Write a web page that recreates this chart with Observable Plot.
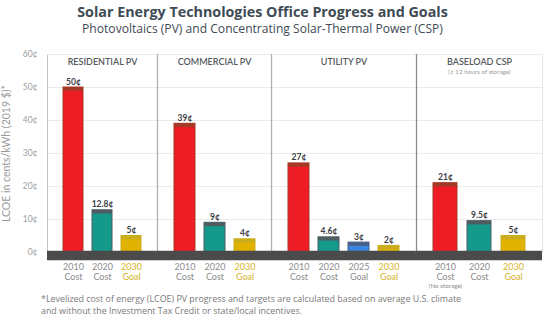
<!DOCTYPE html>
<html>
<head>
<meta charset="utf-8">
<script src="https://cdn.jsdelivr.net/npm/d3@7"></script>
<script src="https://cdn.jsdelivr.net/npm/@observablehq/plot@0.6"></script>
<style>
  html, body { margin: 0; padding: 0; background: #fff; }
  #wrap { position: relative; width: 550px; height: 322px; overflow: hidden; font-family: "Open Sans", sans-serif; }
  #title { position: absolute; left: 0; top: 2px; width: 525px; text-align: center; font-weight: 700; font-size: 14.3px; line-height: 20px; color: #3e4b55; }
  #subtitle { position: absolute; left: 0; top: 21px; width: 525px; text-align: center; font-size: 12.1px; line-height: 16px; color: #3e4b55; }
  #charts { position: absolute; left: 0; top: 45px; display: flex; }
  #charts svg { overflow: visible; }
  #note { position: absolute; left: 41px; top: 293px; font-size: 8.9px; line-height: 12px; color: #7a7a7a; }
</style>
</head>
<body>
<div id="wrap">
  <div id="title">Solar Energy Technologies Office Progress and Goals</div>
  <div id="subtitle">Photovoltaics (PV) and Concentrating Solar-Thermal Power (CSP)</div>
  <div id="charts"></div>
  <div id="note">*Levelized cost of energy (LCOE) PV progress and targets are calculated based on average U.S. climate<br>and without the Investment Tax Credit or state/local incentives.</div>
</div>
<script>
const panels = ["RESIDENTIAL PV", "COMMERCIAL PV", "UTILITY PV", "BASELOAD CSP"];
const panelNotes = ["", "", "", "(≥ 12 hours of storage)"];
const barPanel = [0, 0, 0, 1, 1, 1, 2, 2, 2, 2, 3, 3, 3];
const barYear = ["2010", "2020", "2030", "2010", "2020", "2030", "2010", "2020", "2025", "2030", "2010", "2020", "2030"];
const barType = ["Cost", "Cost", "Goal", "Cost", "Cost", "Goal", "Cost", "Cost", "Goal", "Goal", "Cost", "Cost", "Goal"];
const barValue = [50, 12.8, 5, 39, 9, 4, 27, 4.6, 3, 2, 21, 9.5, 5];
const barNote = ["", "", "", "", "", "", "", "", "", "", "(No storage)", "", ""];
const yTicks = [0, 10, 20, 30, 40, 50, 60];
const yLabel = "LCOE in cents/kWh (2019 $)*";

const fills = {"2010": "#ee1d25", "2020": "#14998a", "2025": "#3a86e0", "2030": "#e2b200"};
const caps = {"2010": "#a23a28", "2020": "#4f5d62", "2025": "#4a5e86", "2030": "#c9ad1c"};
const labelColor = d => d.year === "2030" ? "#d6b32a" : "#8c8c8c";

const rows = barValue.map((v, i) => ({
  panel: barPanel[i], year: barYear[i], type: barType[i], value: v, note: barNote[i],
  cat: barYear[i] + " " + barType[i], label: v + "¢"
}));

const widths = [157, 114, 145, 134];
const mLeft = [47, 0, 0, 0];
const mRight = [0, 0, 0, 8];
const font = "Lato, 'Open Sans', sans-serif";

const host = document.getElementById("charts");
panels.forEach((name, p) => {
  const data = rows.filter(d => d.panel === p);
  const marks = [
    Plot.ruleY(yTicks.filter(t => t > 0), {stroke: "#ebebeb"}),
    Plot.frame({anchor: "left", stroke: p === 0 ? "#c4c4c4" : (p === 3 ? "#8a8a8a" : "#b0b0b0"), strokeWidth: p === 0 ? 1 : 1.3}),
    Plot.barY(data, {x: "cat", y: "value", fill: d => fills[d.year], stroke: d => caps[d.year], strokeWidth: 1}),
    Plot.tickY(data, {x: "cat", y: "value", stroke: d => caps[d.year], strokeWidth: 3.5, dy: 1.5}),
    Plot.ruleY([-0.9], {stroke: "#4b4b4b", strokeWidth: 9.5}),
    Plot.text(data, {x: "cat", y: "value", text: "label", dy: -3, lineAnchor: "bottom", fontWeight: 700, fontSize: 8.5, fill: "#3b4045"}),
    Plot.text(data, {x: "cat", y: 0, text: d => d.year + "\n" + d.type, lineAnchor: "top", dy: 10, fontSize: 9, lineHeight: 1.12, fill: labelColor}),
    Plot.text(data.filter(d => d.note), {x: "cat", y: 0, text: "note", lineAnchor: "top", dy: 31, fontSize: 6.3, fill: "#8c8c8c"}),
    Plot.text([name], {frameAnchor: "top", text: d => d, dy: 4.5, lineAnchor: "top", fontSize: 9, fontWeight: 600, fill: "#555a60", letterSpacing: "0.9px"})
  ];
  if (panelNotes[p]) {
    marks.push(Plot.text([panelNotes[p]], {frameAnchor: "top", text: d => d, dy: 15.5, lineAnchor: "top", fontSize: 6.3, fill: "#9a9a9a"}));
  }
  if (p === 3) marks.push(Plot.frame({anchor: "right", stroke: "#e6e6e6"}));
  if (p === 0) marks.push(Plot.ruleY([60], {stroke: "#ebebeb"}));
  const chart = Plot.plot({
    width: widths[p], height: 250,
    marginLeft: mLeft[p], marginRight: mRight[p], marginTop: 9, marginBottom: 43,
    style: {fontFamily: font, background: "transparent", overflow: "visible"},
    x: {type: "band", domain: data.map(d => d.cat), paddingInner: 0.3, paddingOuter: 0.5, axis: null},
    y: p === 0
      ? {domain: [0, 60], ticks: yTicks, tickFormat: d => d + "¢", tickSize: 0, tickPadding: 10,
         label: yLabel, labelArrow: "none", labelAnchor: "center", labelOffset: 45}
      : {domain: [0, 60], axis: null},
    marks
  });
  chart.style.flex = "none";
  host.appendChild(chart);
});
document.querySelectorAll("#charts svg [aria-label='y-axis tick label']").forEach(g => { g.setAttribute("fill", "#a0a0a0"); g.setAttribute("font-size", "8.5"); });
document.querySelectorAll("#charts svg [aria-label='y-axis label']").forEach(g => {
  g.setAttribute("fill", "#9a9a9a"); g.setAttribute("font-size", "10.5");
  g.querySelectorAll("text").forEach(t => { t.textContent = yLabel; });
});
</script>
</body>
</html>
